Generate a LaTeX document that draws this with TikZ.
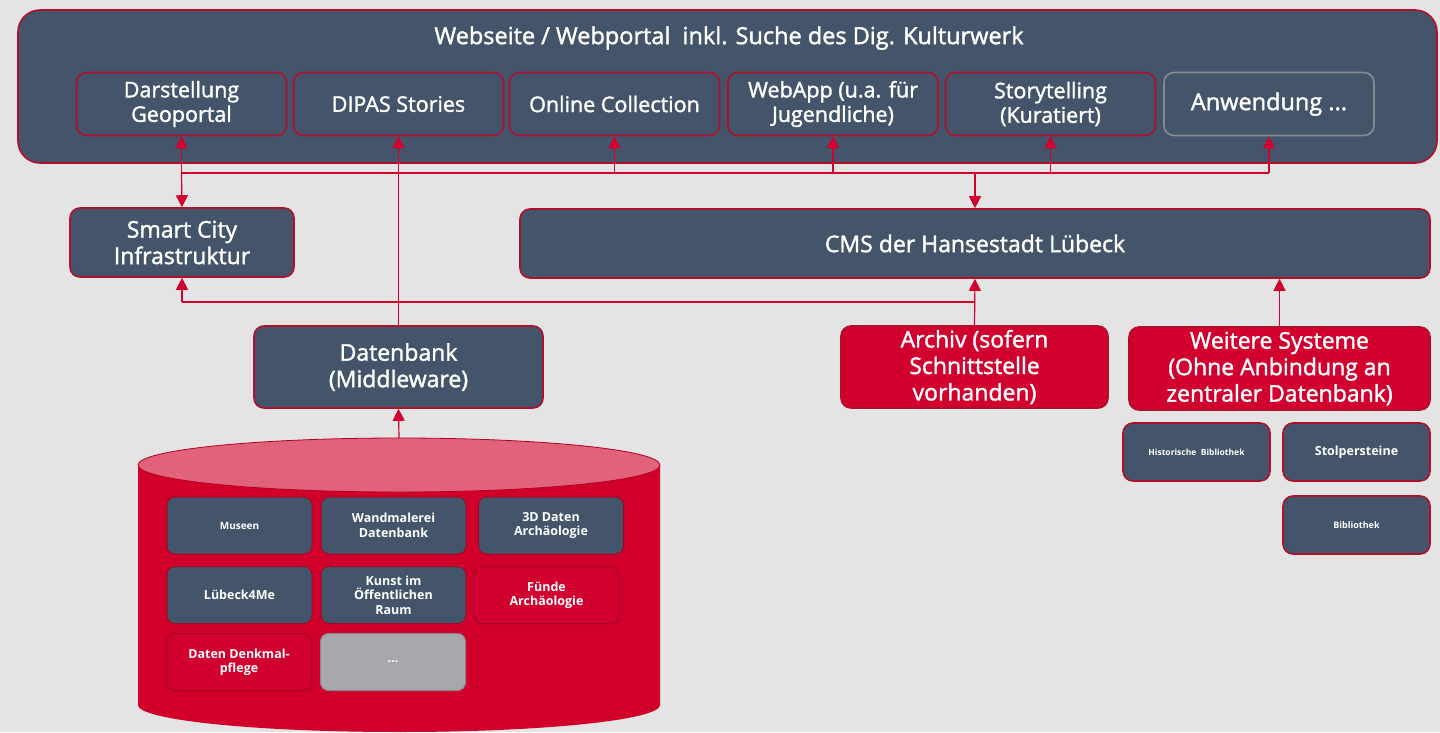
\documentclass[tikz,border=0pt]{standalone}
\usepackage{fontspec}
\setmainfont{Open Sans}
\newfontfamily\semib{Open Sans}[RawFeature={embolden=1.6}]
\usetikzlibrary{arrows.meta}

\definecolor{bggray}{HTML}{E4E4E4}
\definecolor{slate}{HTML}{44546A}
\definecolor{hlred}{HTML}{D2002E}
\definecolor{edgered}{HTML}{B0102C}
\definecolor{cylred}{HTML}{D0002A}
\definecolor{cyltop}{HTML}{E1637A}
\definecolor{darkred}{HTML}{9E0A26}
\definecolor{boxgray}{HTML}{A6A8AB}
\definecolor{linegray}{HTML}{858B94}

\tikzset{
  box/.style={draw=edgered, line width=1.6pt, fill=slate, rounded corners=10pt,
    text=white, align=center, inner sep=2pt},
  redbox/.style={box, fill=hlred},
  appbox/.style={box, minimum width=210pt, minimum height=63pt,
    font=\semib\fontsize{21.5}{24.5}\selectfont},
  bigbox/.style={font=\semib\fontsize{23}{26.5}\selectfont},
  cylbox/.style={box, line width=1pt, draw=darkred, rounded corners=8pt,
    minimum width=145pt, minimum height=57pt, font=\fontsize{12.5}{14.5}\selectfont\bfseries},
  sysbox/.style={box, minimum width=147pt, minimum height=58pt, font=\bfseries},
  link/.style={draw=hlred, line width=1.2pt},
  arr/.style={link, -{Triangle[length=12pt,width=12pt]}}
}

\begin{document}
\begin{tikzpicture}[x=1pt, y=-1pt]
  \useasboundingbox (0,0) rectangle (1440,732);
  \fill [bggray] (0,0) rectangle (1440,732);

  % web portal with its applications
  \node [box, rounded corners=22pt, minimum width=1419pt, minimum height=153pt] (portal) at (727.5,86.5) {};
  \node [text=white, font=\semib\fontsize{23.5}{26}\selectfont] (title) at (729,38)
    {Webseite / Webportal~ inkl. Suche des Dig. Kulturwerk};
  \node [appbox] (geo) at (181.5,104) {Darstellung\\Geoportal};
  \node [appbox] (dipas) at (398.5,104) {DIPAS Stories};
  \node [appbox] (online) at (614.5,104) {Online Collection};
  \node [appbox] (webapp) at (833,104) {WebApp (u.a. für\\Jugendliche)};
  \node [appbox] (story) at (1050.5,104) {Storytelling\\(Kuratiert)};
  \node [appbox, draw=linegray, font=\semib\fontsize{23.5}{26}\selectfont] (anw) at (1269,104) {Anwendung ...};

  % middle layer
  \node [box, bigbox, minimum width=224pt, minimum height=69pt] (smart) at (182,242.5) {Smart City\\Infrastruktur};
  \node [box, bigbox, minimum width=910pt, minimum height=69pt] (cms) at (975,243.5) {CMS der Hansestadt Lübeck};
  \node [box, bigbox, minimum width=289pt, minimum height=82pt] (db) at (398.5,367) {Datenbank\\(Middleware)};
  \node [redbox, bigbox, minimum width=267pt, minimum height=82pt] (archiv) at (974.5,367) {Archiv (sofern\\Schnittstelle\\vorhanden)};
  \node [redbox, bigbox, minimum width=301pt, minimum height=83pt] (weitere) at (1279.5,368.5) {Weitere Systeme\\(Ohne Anbindung an\\zentraler Datenbank)};

  % further systems
  \node [sysbox, font=\fontsize{8.5}{10}\selectfont\bfseries] (hist) at (1196.5,452) {Historische~ Bibliothek};
  \node [sysbox, font=\fontsize{12.5}{15}\selectfont\bfseries] (stolp) at (1356.5,452) {Stolpersteine};
  \node [sysbox, font=\fontsize{9}{11}\selectfont\bfseries] (bib) at (1356.5,525) {Bibliothek};

  % database cylinder
  \fill [cylred] (138,465) -- (138,705)
    arc [start angle=180, end angle=360, x radius=261pt, y radius=27pt] -- (660,465) -- cycle;
  \filldraw [fill=cyltop, draw=cylred!85!black, line width=0.8pt] (399,465) ellipse [x radius=261pt, y radius=27pt];
  \coordinate (cyl) at (399,438);

  \node [cylbox, font=\fontsize{10}{12}\selectfont\bfseries] (museen) at (239.5,525.5) {Museen};
  \node [cylbox] (wand) at (393.5,525.5) {Wandmalerei\\Datenbank};
  \node [cylbox] (drei) at (551,525.5) {3D Daten\\Archäologie};
  \node [cylbox] (luebeck) at (239.5,595) {Lübeck4Me};
  \node [cylbox] (kunst) at (393.5,595) {Kunst im\\Öffentlichen\\Raum};
  \node [cylbox, fill=hlred] (funde) at (546.5,595) {Fünde\\Archäologie};
  \node [cylbox, fill=hlred] (denkmal) at (239,662) {Daten Denkmal-\\pflege};
  \node [cylbox, fill=boxgray, draw=boxgray!80!black] (more) at (393,662) {...};

  % connectors
  \coordinate (busT) at (0,173);
  \coordinate (busB) at (0,302);
  \draw [link] (geo.south |- busT) -- (anw.south |- busT);
  \draw [arr] (geo.south |- busT) -- (geo.south);
  \draw [arr] (geo.south |- busT) -- (smart.north);
  \foreach \app in {online,webapp,story,anw}
    \draw [arr] (\app.south |- busT) -- (\app.south);
  \draw [arr] (cms.north |- busT) -- (cms.north);
  \draw [arr, {Triangle[length=12pt,width=12pt]}-] (dipas.south) -- (db.north);

  \draw [link] (smart.south |- busB) -- (archiv.north |- busB);
  \draw [arr] (smart.south |- busB) -- (smart.south);
  \draw [arr] (archiv.north) -- (cms.south);
  \draw [arr] (weitere.north) -- (weitere.north |- cms.south);
  \draw [arr] (cyl) -- (db.south);
\end{tikzpicture}
\end{document}
